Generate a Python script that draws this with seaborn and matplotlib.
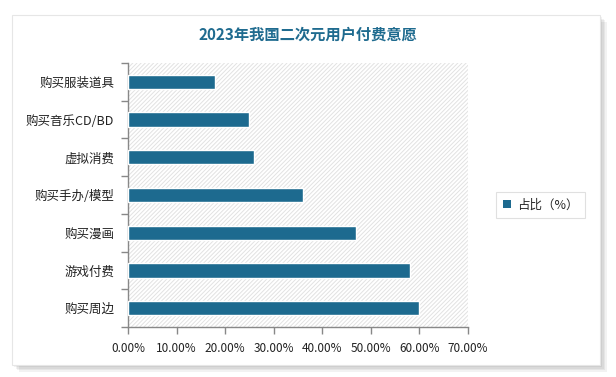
import matplotlib
matplotlib.use("Agg")
import matplotlib.pyplot as plt
import seaborn as sns
import pandas as pd
import numpy as np
from matplotlib.patches import Rectangle
from matplotlib.ticker import FuncFormatter, FixedLocator

categories = ["购买服装道具", "购买音乐CD/BD", "虚拟消费", "购买手办/模型", "购买漫画", "游戏付费", "购买周边"]
values = [18, 25, 26, 36, 47, 58, 60]
series_name = "占比（%）"
title = "2023年我国二次元用户付费意愿"

sns.set_theme(style="white")
plt.rcParams['font.family'] = ['Noto Sans CJK SC', 'DejaVu Sans']
plt.rcParams['hatch.color'] = '#e2e2e2'
plt.rcParams['hatch.linewidth'] = 0.7

df = pd.DataFrame({"cat": categories, "val": values, "series": series_name})

fig = plt.figure(figsize=(6.16, 3.77), dpi=100)
fig.patch.set_facecolor('#ffffff')

# outer card with shadow
W, H = 616, 377
for i, a in enumerate([0.05, 0.05, 0.05, 0.05]):
    off = 2 + i * 1.5
    fig.patches.append(Rectangle(((12 + off) / W, (12 - off) / H), 588 / W, 350 / H,
                                 transform=fig.transFigure, facecolor='#000000', alpha=a,
                                 edgecolor='none', zorder=0))
fig.patches.append(Rectangle((12 / W, 12 / H), 588 / W, 350 / H, transform=fig.transFigure,
                             facecolor='white', edgecolor='#e6e6e6', linewidth=0.8, zorder=1))

ax = fig.add_axes([128 / W, 1 - 327 / H, 340 / W, 264 / H])
ax.set_zorder(2)
ax.patch.set_alpha(0)
ax.add_patch(Rectangle((0, 0), 1, 1, transform=ax.transAxes, facecolor='white',
                       hatch='////////', edgecolor='#e2e2e2', linewidth=0, zorder=0))

sns.barplot(data=df, y="cat", x="val", hue="series", orient="h", ax=ax,
            palette=['#1d6a8f'], saturation=1, width=0.38, edgecolor='white', linewidth=1.0,
            dodge=False, zorder=3)

ax.set_xlim(0, 70)
ax.set_ylim(len(categories) - 0.5, -0.5)
ax.set_xticks(np.arange(0, 71, 10))
ax.xaxis.set_major_formatter(FuncFormatter(lambda v, p: f"{v:.2f}%"))
ax.yaxis.set_major_locator(FixedLocator(np.arange(len(categories))))
ax.set_yticklabels(categories)
ax.yaxis.set_minor_locator(FixedLocator(np.arange(-0.5, len(categories), 1.0)))
ax.tick_params(axis='y', which='major', length=0, pad=10, labelsize=9, labelcolor='#222222')
ax.tick_params(axis='y', which='minor', left=True, length=5, width=1, color='#888888')
ax.tick_params(axis='x', bottom=True, length=5, width=1, color='#888888', labelsize=8.5,
               labelcolor='#222222', pad=6)
ax.set_xlabel("")
ax.set_ylabel("")
for s in ['top', 'right']:
    ax.spines[s].set_visible(False)
for s in ['left', 'bottom']:
    ax.spines[s].set_color('#888888')
    ax.spines[s].set_linewidth(1)

leg = ax.legend(loc='center left', bbox_to_anchor=(490 / W, 1 - 205 / H),
                bbox_transform=fig.transFigure, frameon=True, fancybox=False,
                fontsize=9, handlelength=0.7, handleheight=0.7, handletextpad=0.5,
                borderpad=0.5)
leg.get_frame().set_edgecolor('#d9d9d9')
leg.get_frame().set_linewidth(0.8)
for h in leg.legend_handles:
    h.set_edgecolor('none')

fig.text(0.5, 1 - 35 / H, title, ha='center', va='center', fontsize=11, fontweight='bold',
         color='#1f6b8f', zorder=5)

fig.savefig("out.png", dpi=100)
